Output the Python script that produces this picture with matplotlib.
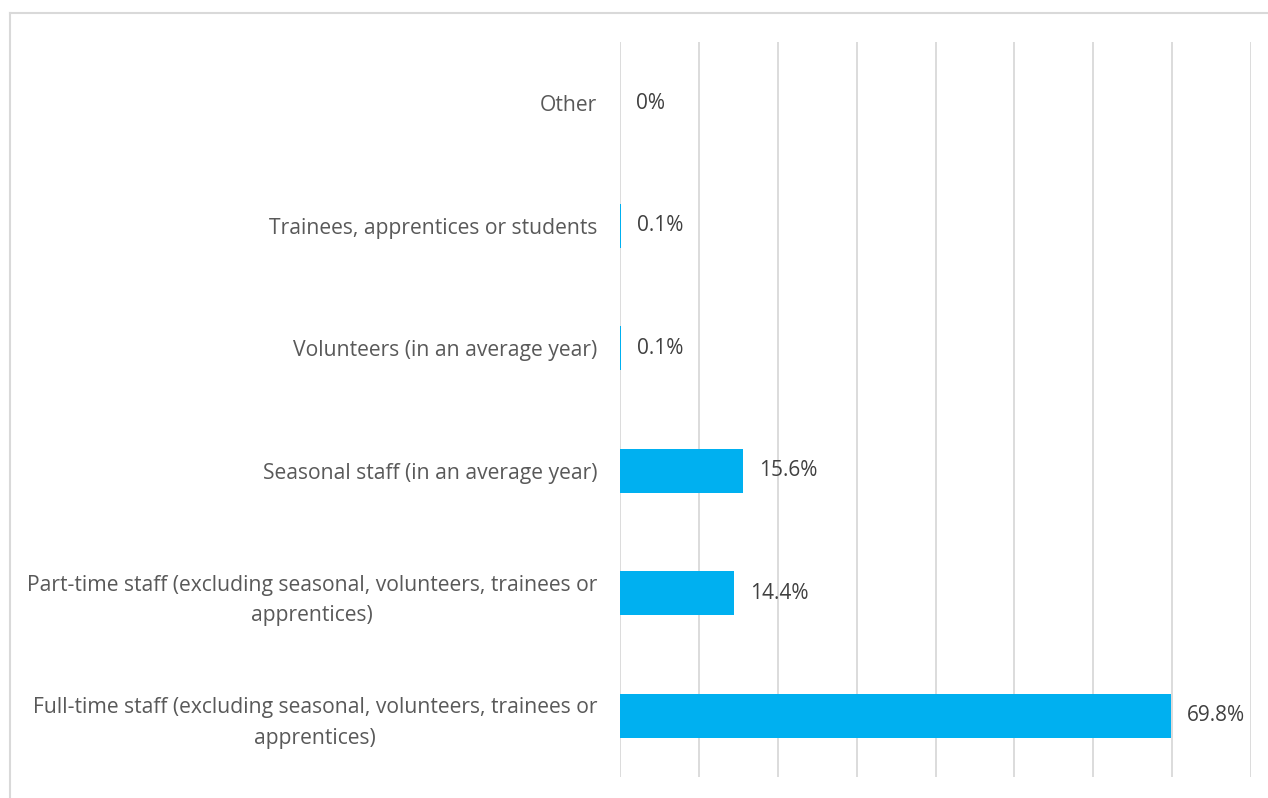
import matplotlib
matplotlib.use("Agg")
import matplotlib.pyplot as plt
from matplotlib.lines import Line2D

categories = [
    "Full-time staff (excluding seasonal, volunteers, trainees or\napprentices)",
    "Part-time staff (excluding seasonal, volunteers, trainees or\napprentices)",
    "Seasonal staff (in an average year)",
    "Volunteers (in an average year)",
    "Trainees, apprentices or students",
    "Other",
]
values = [69.8, 14.4, 15.6, 0.1, 0.1, 0.0]
value_labels = ["69.8%", "14.4%", "15.6%", "0.1%", "0.1%", "0%"]
x_ticks = [0, 10, 20, 30, 40, 50, 60, 70, 80]

plt.rcParams['font.family'] = ['Open Sans', 'DejaVu Sans']

W, H = 1268, 798
fig = plt.figure(figsize=(W / 100, H / 100), dpi=100)
ax = fig.add_axes([620 / W, 1 - 777 / H, (1251 - 620) / W, (777 - 42) / H])

ypos = list(range(len(categories)))
ax.barh(ypos, values, height=0.36, color="#00B0F0", zorder=3)
ax.set_xlim(0, 80)
ax.set_ylim(-0.5, len(categories) - 0.5)
ax.set_xticks(x_ticks)
ax.set_xticklabels([])
ax.tick_params(axis="x", length=0)
ax.tick_params(axis="y", length=0, pad=16.5)
ax.set_yticks(ypos)
ax.set_yticklabels(categories, fontsize=15.2, color="#595959", multialignment="center",
                   linespacing=1.6)
ax.grid(axis="x", color="#D9D9D9", linewidth=1.3, zorder=0)
for s in ax.spines.values():
    s.set_visible(False)

for y, v, lab in zip(ypos, values, value_labels):
    ax.annotate(lab, xy=(v, y), xytext=(16, 0), textcoords="offset pixels",
                ha="left", va="center", fontsize=15, color="#404040")

# outer chart border (top and left visible)
fig.add_artist(Line2D([10 / W, 10 / W], [0, 1 - 13 / H], transform=fig.transFigure,
                      color="#D9D9D9", linewidth=1.5))
fig.add_artist(Line2D([10 / W, 1], [1 - 13 / H, 1 - 13 / H], transform=fig.transFigure,
                      color="#D9D9D9", linewidth=1.5))

fig.savefig("out.png", dpi=100)
